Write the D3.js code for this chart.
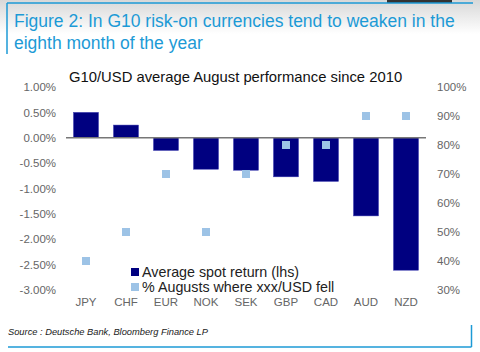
<!DOCTYPE html>
<html>
<head>
<meta charset="utf-8">
<script src="https://cdn.jsdelivr.net/npm/d3@7"></script>
<style>
  body { margin: 0; background: #fff; }
  svg { display: block; font-family: "Liberation Sans", Arial, sans-serif; }
</style>
</head>
<body>
<svg id="chart" width="480" height="352"></svg>
<script>
let currencies = ["JPY", "CHF", "EUR", "NOK", "SEK", "GBP", "CAD", "AUD", "NZD"];
let spotReturn = [0.50, 0.25, -0.25, -0.62, -0.64, -0.77, -0.86, -1.54, -2.61];
let pctFell = [40, 50, 70, 50, 70, 80, 80, 90, 90];
let leftTicks = [1, 0.5, 0, -0.5, -1, -1.5, -2, -2.5, -3];
let rightTicks = [100, 90, 80, 70, 60, 50, 40, 30];
let legendLabels = ["Average spot return (lhs)", "% Augusts where xxx/USD fell"];

function drawChart(holder) {
  let svg = d3.select(holder);
  let margin = {left: 66, right: 54, top: 87, bottom: 62};
  let width = 480, height = 352;
  let navy = "#000080", light = "#9dc3e6", blue = "#1c9ad6", grey = "#666";

  // header shading and frame
  let defs = svg.append("defs");
  let grad = defs.append("linearGradient").attr("id", "shade")
    .attr("x1", 0).attr("y1", 0).attr("x2", 0).attr("y2", 1);
  grad.append("stop").attr("offset", "0%").attr("stop-color", "#d8d8d8");
  grad.append("stop").attr("offset", "100%").attr("stop-color", "#fff");
  svg.append("rect").attr("x", 0).attr("y", 0).attr("width", width).attr("height", 34)
    .attr("fill", "url(#shade)");
  svg.append("rect").attr("x", 387).attr("y", 0).attr("width", 65).attr("height", 3).attr("fill", "#333");
  svg.append("line").attr("x1", 7).attr("x2", 473).attr("y1", 3).attr("y2", 3)
    .attr("stroke", blue).attr("stroke-width", 1.5);
  svg.append("line").attr("x1", 7).attr("x2", 7).attr("y1", 3).attr("y2", 54)
    .attr("stroke", blue).attr("stroke-width", 1.5);

  svg.append("text").attr("x", 14).attr("y", 27).attr("fill", blue)
    .style("font-size", "17.5px").text("Figure 2: In G10 risk-on currencies tend to weaken in the");
  svg.append("text").attr("x", 14).attr("y", 49).attr("fill", blue)
    .style("font-size", "17.5px").text("eighth month of the year");

  svg.append("text").attr("x", 69).attr("y", 82).attr("fill", "#111")
    .style("font-size", "14.8px").text("G10/USD average August performance since 2010");

  let x = d3.scaleBand().domain(currencies)
    .range([margin.left, width - margin.right]).paddingInner(0.375).paddingOuter(0.1875);
  let yL = d3.scaleLinear().domain([-3, 1]).range([height - margin.bottom, margin.top]);
  let yR = d3.scaleLinear().domain([30, 100]).range([height - margin.bottom, margin.top]);

  let axisL = svg.append("g").attr("transform", `translate(${margin.left - 10},0)`)
    .call(d3.axisLeft(yL).tickValues(leftTicks).tickSize(0).tickPadding(0)
      .tickFormat(d => d3.format(".2f")(d).replace("−", "-") + "%"));
  let axisR = svg.append("g").attr("transform", `translate(${width - margin.right + 11},0)`)
    .call(d3.axisRight(yR).tickValues(rightTicks).tickSize(0).tickPadding(0)
      .tickFormat(d => d + "%"));
  [axisL, axisR].forEach(a => {
    a.select(".domain").remove();
    a.selectAll("text").attr("fill", grey).style("font-size", "11.5px")
      .style("font-family", "'Liberation Sans', Arial, sans-serif");
  });

  let axisX = svg.append("g").attr("transform", `translate(0,${height - margin.bottom + 8})`)
    .call(d3.axisBottom(x).tickSize(0).tickPadding(0));
  axisX.select(".domain").remove();
  axisX.selectAll("text").attr("fill", grey).style("font-size", "11.5px").attr("dy", "0.71em")
    .style("font-family", "'Liberation Sans', Arial, sans-serif");

  svg.append("g").selectAll("rect")
    .data(spotReturn)
    .join("rect")
    .attr("x", (d, i) => x(currencies[i]))
    .attr("width", x.bandwidth())
    .attr("y", d => yL(Math.max(0, d)))
    .attr("height", d => Math.abs(yL(d) - yL(0)))
    .attr("fill", navy)
    .attr("stroke", "#3b3bb0").attr("stroke-width", 0.5);

  svg.append("line")
    .attr("x1", margin.left).attr("x2", width - margin.right)
    .attr("y1", yL(0)).attr("y2", yL(0))
    .attr("stroke", "#777").attr("stroke-width", 1.5);

  svg.append("g").selectAll("rect")
    .data(pctFell)
    .join("rect")
    .attr("x", (d, i) => x(currencies[i]) + x.bandwidth() / 2 - 4)
    .attr("y", d => yR(d) - 4)
    .attr("width", 8).attr("height", 8)
    .attr("fill", light);

  // legend
  let legend = svg.append("g").attr("transform", "translate(131,268)");
  legendLabels.forEach((label, i) => {
    legend.append("rect").attr("x", 0).attr("y", i * 15).attr("width", 8).attr("height", 8)
      .attr("fill", i === 0 ? navy : light);
    legend.append("text").attr("x", 11).attr("y", i * 15 + 8.5).attr("fill", "#222")
      .style("font-size", "14.3px").text(label);
  });

  // footer
  svg.append("text").attr("x", 8).attr("y", 335).attr("fill", "#222")
    .style("font-size", "9.3px").style("font-style", "italic")
    .text("Source : Deutsche Bank, Bloomberg Finance LP");
  svg.append("line").attr("x1", 8).attr("x2", 471.5).attr("y1", 347).attr("y2", 347)
    .attr("stroke", blue).attr("stroke-width", 1.5);
  svg.append("line").attr("x1", 471.5).attr("x2", 471.5).attr("y1", 325).attr("y2", 347)
    .attr("stroke", blue).attr("stroke-width", 1.5);
}

drawChart("#chart");
</script>
</body>
</html>
